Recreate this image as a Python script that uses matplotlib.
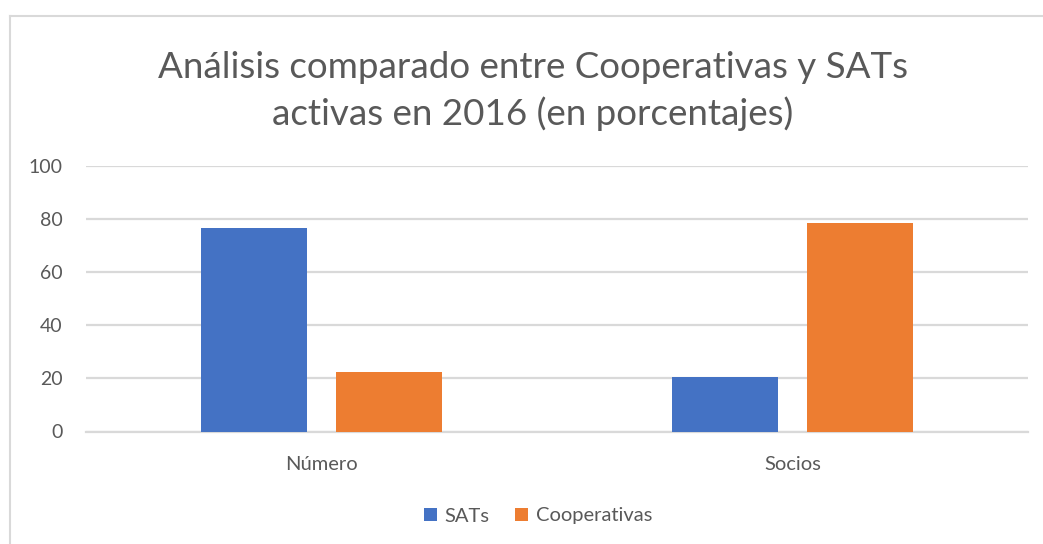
import matplotlib
matplotlib.use("Agg")
import matplotlib.pyplot as plt
from matplotlib.lines import Line2D
from matplotlib.patches import Patch
import numpy as np

categories = ["Número", "Socios"]
sats = [76.6, 20.4]
cooperativas = [22.4, 78.6]
series_names = ["SATs", "Cooperativas"]
yticks = [0, 20, 40, 60, 80, 100]
title = "Análisis comparado entre Cooperativas y SATs\nactivas en 2016 (en porcentajes)"

BLUE = "#4472C4"
ORANGE = "#ED7D31"
TXT = "#595959"
GRID = "#D9D9D9"

plt.rcParams['font.family'] = ['Lato', 'DejaVu Sans']

W, H = 1043, 544
fig = plt.figure(figsize=(W / 100, H / 100), dpi=100)
ax = fig.add_axes([86 / W, 1 - 431.5 / H, (1028 - 86) / W, (431.5 - 166) / H])

x = np.arange(len(categories))
bw = 0.225
off = 0.1435
ax.bar(x - off, sats, bw, color=BLUE, zorder=3)
ax.bar(x + off, cooperativas, bw, color=ORANGE, zorder=3)

ax.set_xlim(-0.5, len(categories) - 0.5)
ax.set_ylim(0, 100)
ax.set_yticks(yticks)
ax.set_xticks(x)
ax.set_xticklabels(categories)
ax.yaxis.grid(True, color=GRID, linewidth=1.6, zorder=0)
ax.set_axisbelow(True)
for s in ax.spines.values():
    s.set_visible(False)
ax.tick_params(axis='y', length=0, pad=17, labelsize=14, labelcolor=TXT)
ax.tick_params(axis='x', length=0, pad=18, labelsize=14.5, labelcolor=TXT)
ax.axhline(0, color=GRID, linewidth=1.6, zorder=1, clip_on=False)

fig.text(0.5 * (163 + 903) / W, 1 - 91 / H, title, ha='center', va='center',
         fontsize=26.5, color=TXT, linespacing=1.4)

handles = [Patch(facecolor=BLUE), Patch(facecolor=ORANGE)]
fig.legend(handles, series_names, loc='center', bbox_to_anchor=(538 / W, 1 - 516 / H),
           ncol=2, frameon=False, fontsize=14.5, labelcolor=TXT,
           handlelength=0.65, handleheight=0.65, handletextpad=0.35, columnspacing=1.3)

# chart border (top and left visible)
fig.add_artist(Line2D([9.5 / W, 1], [1 - 16 / H, 1 - 16 / H], color=GRID, linewidth=1.5,
                      transform=fig.transFigure))
fig.add_artist(Line2D([9.5 / W, 9.5 / W], [0, 1 - 16 / H], color=GRID, linewidth=1.5,
                      transform=fig.transFigure))

fig.savefig("out.png", dpi=100, facecolor="white")
